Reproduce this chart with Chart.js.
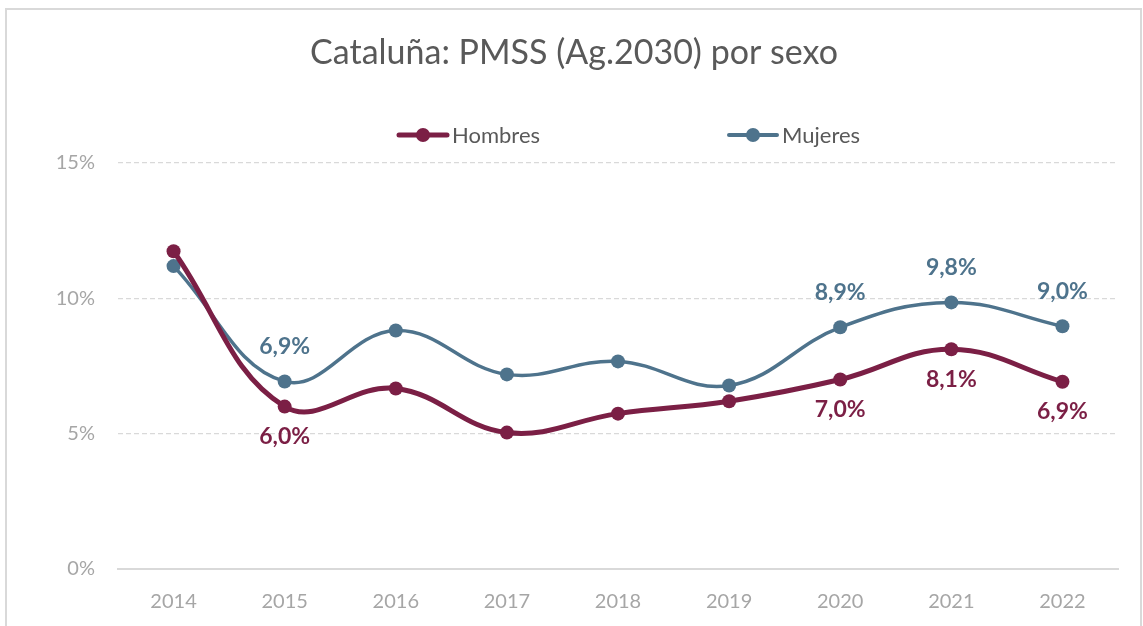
<!DOCTYPE html>
<html>
<head>
<meta charset="utf-8">
<script src="https://cdn.jsdelivr.net/npm/chart.js@4/dist/chart.umd.min.js"></script>
<style>
html,body{margin:0;padding:0;background:#fff;}
#wrap{width:1143px;height:626px;position:relative;}
</style>
</head>
<body>
<div id="wrap"><canvas id="c" width="1143" height="626"></canvas></div>
<script>
const titleText = 'Cataluña: PMSS (Ag.2030) por sexo';
const years = ['2014','2015','2016','2017','2018','2019','2020','2021','2022'];
const hombres = [11.74, 6.0, 6.67, 5.04, 5.74, 6.2, 7.0, 8.12, 6.92];
const mujeres = [11.19, 6.93, 8.81, 7.19, 7.67, 6.78, 8.93, 9.85, 8.97];
const hombresLabelShown = [false, true, false, false, false, false, true, true, true];
const mujeresLabelShown = [false, true, false, false, false, false, true, true, true];
const yTicks = [0, 5, 10, 15];

const FONT = 'Lato, "Open Sans", sans-serif';
const C_H = '#7B1F45';
const C_M = '#4E738C';

const fmt = v => v.toFixed(1).replace('.', ',') + '%';

const decorPlugin = {
  id: 'decor',
  beforeDraw(chart) {
    const ctx = chart.ctx;
    ctx.save();
    ctx.fillStyle = '#fff';
    ctx.fillRect(0, 0, chart.width, chart.height);
    ctx.strokeStyle = '#D9D9D9';
    ctx.lineWidth = 2;
    ctx.strokeRect(6, 9, 1135, 640);
    // title
    ctx.fillStyle = '#595959';
    ctx.font = '34px ' + FONT;
    ctx.textAlign = 'center';
    ctx.textBaseline = 'middle';
    ctx.fillText(titleText, 574, 53);
    // legend
    const items = [
      {ds: chart.data.datasets[0], x0: 399, w: 5},
      {ds: chart.data.datasets[1], x0: 729, w: 4}
    ];
    const ly = 135;
    items.forEach(it => {
      ctx.strokeStyle = it.ds.borderColor;
      ctx.lineWidth = it.w;
      ctx.lineCap = 'round';
      ctx.beginPath();
      ctx.moveTo(it.x0, ly);
      ctx.lineTo(it.x0 + 48, ly);
      ctx.stroke();
      ctx.fillStyle = it.ds.borderColor;
      ctx.beginPath();
      ctx.arc(it.x0 + 24, ly, 7, 0, Math.PI * 2);
      ctx.fill();
      ctx.fillStyle = '#595959';
      ctx.font = '22px ' + FONT;
      ctx.textAlign = 'left';
      ctx.fillText(it.ds.label, it.x0 + 53, ly + 1);
    });
    ctx.restore();
  },
  afterDatasetsDraw(chart) {
    const ctx = chart.ctx;
    ctx.save();
    ctx.font = 'bold 23px ' + FONT;
    ctx.textAlign = 'center';
    ctx.textBaseline = 'middle';
    chart.data.datasets.forEach((ds, di) => {
      const meta = chart.getDatasetMeta(di);
      meta.data.forEach((pt, i) => {
        if (!ds.labelShown[i]) return;
        ctx.fillStyle = ds.borderColor;
        const dy = ds.labelPos === 'above' ? -35 : 30;
        ctx.fillText(fmt(ds.data[i]), pt.x, pt.y + dy);
      });
    });
    ctx.restore();
  }
};

new Chart(document.getElementById('c'), {
  type: 'line',
  data: {
    labels: years,
    datasets: [
      {
        label: 'Hombres', data: hombres, borderColor: C_H, backgroundColor: C_H,
        borderWidth: 5, pointRadius: 7, pointBackgroundColor: C_H, pointBorderWidth: 0,
        tension: 0.4, labelShown: hombresLabelShown, labelPos: 'below'
      },
      {
        label: 'Mujeres', data: mujeres, borderColor: C_M, backgroundColor: C_M,
        borderWidth: 3.5, pointRadius: 7, pointBackgroundColor: C_M, pointBorderWidth: 0,
        tension: 0.4, labelShown: mujeresLabelShown, labelPos: 'above'
      }
    ]
  },
  options: {
    responsive: false,
    animation: false,
    devicePixelRatio: 1,
    layout: { padding: { left: 0, right: 25, top: 163, bottom: 0 } },
    plugins: { legend: { display: false }, title: { display: false }, tooltip: { enabled: false } },
    scales: {
      x: {
        offset: true,
        grid: { display: false, drawTicks: false },
        border: { display: true, color: '#D9D9D9', width: 2 },
        ticks: { color: '#A6A6A6', font: { family: FONT, size: 20 }, padding: 21 },
        afterFit(s) { s.height = 57; }
      },
      y: {
        min: 0, max: 15,
        afterBuildTicks(s) { s.ticks = yTicks.map(v => ({ value: v })); },
        grid: { color: '#D9D9D9', lineWidth: 1.3, drawTicks: false },
        border: { display: false, dash: [5, 3] },
        ticks: { color: '#A6A6A6', font: { family: FONT, size: 20 }, padding: 23, callback: v => v + '%' },
        afterFit(s) { s.width = 118; }
      }
    }
  },
  plugins: [decorPlugin]
});
</script>
</body>
</html>
